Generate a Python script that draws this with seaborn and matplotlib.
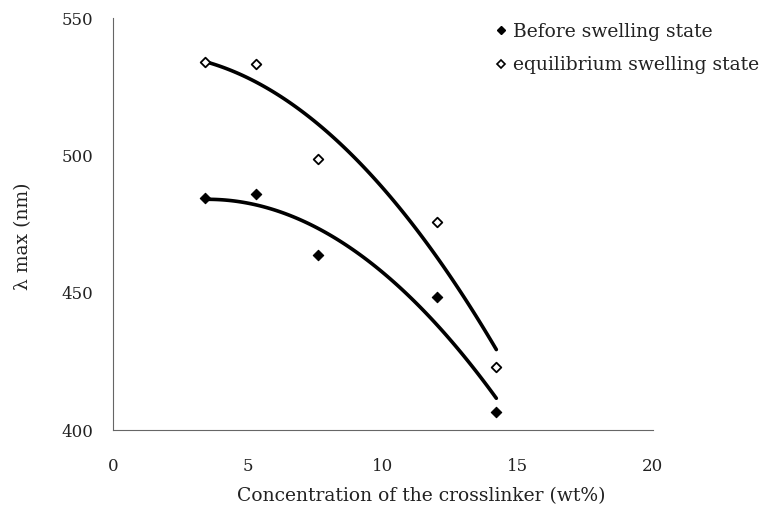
import numpy as np
import pandas as pd
import matplotlib
matplotlib.use("Agg")
import matplotlib.pyplot as plt
import seaborn as sns
from matplotlib.lines import Line2D

conc = [3.4, 5.3, 7.6, 12.0, 14.2]
before = [484.3, 486.1, 463.9, 448.5, 406.4]
equilibrium = [534.0, 533.2, 498.5, 475.9, 422.8]
series_names = ["Before swelling state", "equilibrium swelling state"]
xticks = [0, 5, 10, 15, 20]
yticks = [400, 450, 500, 550]

sns.set_style("white")
plt.rcParams['font.family'] = ['DejaVu Serif', 'Liberation Serif']

fig = plt.figure(figsize=(7.69, 5.08), dpi=100)
ax = fig.add_axes([0.147, 0.1535, 0.702, 0.811])

df = pd.DataFrame({"x": conc, "before": before, "eq": equilibrium})

sns.regplot(data=df, x="x", y="eq", order=2, ci=None, scatter=False, truncate=True,
            ax=ax, line_kws=dict(color="black", lw=2.6, zorder=2))
sns.regplot(data=df, x="x", y="before", order=2, ci=None, scatter=False, truncate=True,
            ax=ax, line_kws=dict(color="black", lw=2.6, zorder=2))

sns.scatterplot(data=df, x="x", y="before", marker="D", s=28, color="black",
                edgecolor="black", linewidth=0.8, ax=ax, zorder=3)
sns.scatterplot(data=df, x="x", y="eq", marker="D", s=24, color="white",
                edgecolor="black", linewidth=1.3, ax=ax, zorder=3)

ax.set_xlim(0, 20)
ax.set_ylim(400, 550)
ax.set_xticks(xticks)
ax.set_yticks(yticks)
ax.tick_params(axis="both", direction="in", length=4, width=0.8, color="#555555",
               labelsize=12, labelcolor="#222222")
ax.tick_params(axis="x", pad=20)
ax.tick_params(axis="y", pad=14)
for s in ["top", "right"]:
    ax.spines[s].set_visible(False)
for s in ["left", "bottom"]:
    ax.spines[s].set_color("#666666")
    ax.spines[s].set_linewidth(0.8)

ax.set_xlabel("Concentration of the crosslinker (wt%)", fontsize=13.5, color="#222222")
ax.set_ylabel("λ max (nm)", fontsize=13.5, color="#222222")
ax.xaxis.set_label_coords(0.57, -0.138)
ax.yaxis.set_label_coords(-0.15, 0.47)

handles = [
    Line2D([], [], marker="D", linestyle="none", markersize=4.5, markerfacecolor="black",
           markeredgecolor="black"),
    Line2D([], [], marker="D", linestyle="none", markersize=4.5, markerfacecolor="white",
           markeredgecolor="black", markeredgewidth=1.2),
]
leg = ax.legend(handles, series_names, loc="upper left", bbox_to_anchor=(0.67, 1.03),
                frameon=False, fontsize=13.5, handletextpad=0.15, handlelength=1.0,
                labelspacing=0.85, labelcolor="#222222")

fig.savefig("out.png", dpi=100)
